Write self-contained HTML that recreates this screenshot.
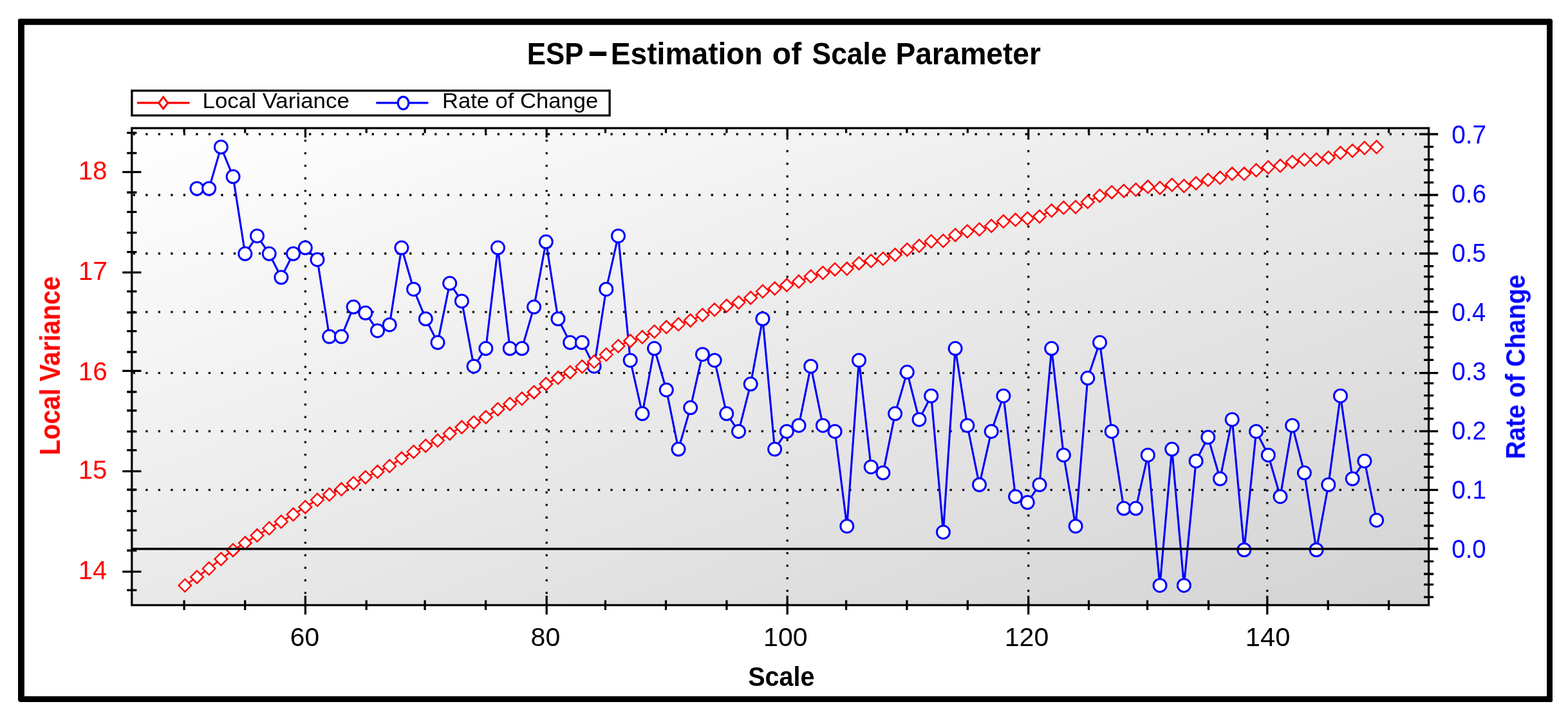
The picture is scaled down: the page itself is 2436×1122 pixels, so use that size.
<!DOCTYPE html>
<html lang="en"><head><meta charset="utf-8"><title>ESP - Estimation of Scale Parameter</title>
<style>html,body{margin:0;padding:0;background:#fff;}body{width:2436px;height:1122px;}svg{display:block;}text{font-family:"Liberation Sans",sans-serif;}</style>
</head><body>
<svg width="2436" height="1122" viewBox="0 0 2436 1122">
<defs><linearGradient id="bg" x1="0" y1="0" x2="1" y2="1"><stop offset="0" stop-color="#ffffff"/><stop offset="1" stop-color="#d3d3d3"/></linearGradient>
<filter id="soft" filterUnits="userSpaceOnUse" x="40" y="40" width="2360" height="1040"><feGaussianBlur stdDeviation="0.45"/></filter><clipPath id="cp"><rect x="204.8" y="199.1" width="2014.8" height="741.3"/></clipPath></defs>
<rect width="2436" height="1122" fill="#fff"/>
<path fill="#000" fill-rule="evenodd" d="M31 29H2409.8L2412 31.2V1089.8L2410.8 1091H30.4L28 1088.6V31.6Q28 29 31 29ZM37.9 38.8V1082.05H2403.1V38.8Z"/>
<g filter="url(#soft)">
<rect x="204.8" y="199.1" width="2014.8" height="741.3" fill="url(#bg)"/>
<g clip-path="url(#cp)" stroke="#000" stroke-width="3.27" stroke-dasharray="3.27 16.25" fill="none">
<path d="M206.7 761.3H2219.6"/>
<path d="M206.7 670.1H2219.6"/>
<path d="M206.7 579.6H2219.6"/>
<path d="M206.7 484.9H2219.6"/>
<path d="M206.7 394H2219.6"/>
<path d="M206.7 303H2219.6"/>
<path d="M206.7 208.5H2219.6"/>
<path d="M474.4 197.5V940.4"/>
<path d="M849.2 197.5V940.4"/>
<path d="M1223.2 194.3V940.4"/>
<path d="M1597.7 194.3V940.4"/>
<path d="M1968.8 194.3V940.4"/>
</g>
<path d="M474.4 925.8V955M474.4 199.1V213.7M849.2 925.8V955M849.2 199.1V213.7M1223.2 925.8V955M1223.2 199.1V213.7M1597.7 925.8V955M1597.7 199.1V213.7M1968.8 925.8V955M1968.8 199.1V213.7M286.1 932.8V948M286.1 199.1V206.7M380.7 932.8V948M380.7 199.1V206.7M569.2 932.8V948M569.2 199.1V206.7M660.1 932.8V948M660.1 199.1V206.7M754.6 932.8V948M754.6 199.1V206.7M940.5 932.8V948M940.5 199.1V206.7M1034.5 932.8V948M1034.5 199.1V206.7M1128.9 932.8V948M1128.9 199.1V206.7M1314.6 932.8V948M1314.6 199.1V206.7M1408.9 932.8V948M1408.9 199.1V206.7M1503.3 932.8V948M1503.3 199.1V206.7M1691.5 932.8V948M1691.5 199.1V206.7M1782.5 932.8V948M1782.5 199.1V206.7M1877.5 932.8V948M1877.5 199.1V206.7M2063.2 932.8V948M2063.2 199.1V206.7M2157.6 932.8V948M2157.6 199.1V206.7M197.2 206.3H212.4M197.2 237.9H212.4M190.2 267.4H219.4M197.2 299H212.4M197.2 329.3H212.4M197.2 361.7H212.4M197.2 391.7H212.4M190.2 423.4H219.4M197.2 452.9H212.4M197.2 485.5H212.4M197.2 514.7H212.4M197.2 547H212.4M190.2 576.4H219.4M197.2 609H212.4M197.2 638H212.4M197.2 670.6H212.4M197.2 699.7H212.4M190.2 732.4H219.4M197.2 761H212.4M197.2 794.2H212.4M197.2 824.1H212.4M197.2 855.5H212.4M190.2 888.4H219.4M197.2 917.2H212.4M2205 208.5H2234.2M2212 228.1H2227.2M2212 247.9H2227.2M2212 264.3H2227.2M2212 283.7H2227.2M2205 303H2234.2M2212 319.5H2227.2M2212 338.5H2227.2M2212 357.2H2227.2M2212 375.4H2227.2M2205 394H2234.2M2212 413.7H2227.2M2212 429.9H2227.2M2212 449.3H2227.2M2212 468.5H2227.2M2205 484.9H2234.2M2212 504.6H2227.2M2212 523.9H2227.2M2212 539.8H2227.2M2212 559.4H2227.2M2205 579.6H2234.2M2212 595.6H2227.2M2212 614.6H2227.2M2212 634.6H2227.2M2212 650.8H2227.2M2205 670.1H2234.2M2212 689.7H2227.2M2212 706H2227.2M2212 725.3H2227.2M2212 742.2H2227.2M2205 761.3H2234.2M2212 781.3H2227.2M2212 797.3H2227.2M2212 817H2227.2M2212 836.3H2227.2M2205 853H2234.2M2212 872.4H2227.2M2212 892H2227.2M2212 908.3H2227.2M2212 927.8H2227.2" stroke="#000" stroke-width="3.27" fill="none"/>
<rect x="204.8" y="199.1" width="2014.8" height="741.3" fill="none" stroke="#000" stroke-width="3.27"/>
<g clip-path="url(#cp)">
<polyline points="306,293 324.7,293 343.4,228.56 362.1,274.59 380.8,394.25 399.5,366.63 418.2,394.25 436.9,431.07 455.6,394.25 474.3,385.05 493,403.45 511.7,523.12 530.4,523.12 549.1,477.1 567.8,486.3 586.5,513.91 605.2,504.71 623.9,385.05 642.6,449.48 661.3,495.5 680,532.33 698.7,440.27 717.4,467.89 736.1,569.14 754.8,541.53 773.5,385.05 792.2,541.53 810.9,541.53 829.6,477.1 848.3,375.84 867,495.5 885.7,532.33 904.4,532.33 923.1,569.14 941.8,449.48 960.5,366.63 979.2,559.94 997.9,642.78 1016.6,541.53 1035.3,605.96 1054,698.01 1072.7,633.58 1091.4,550.74 1110.1,559.94 1128.8,642.78 1147.5,670.4 1166.2,596.76 1184.9,495.5 1203.6,698.01 1222.3,670.4 1241,661.19 1259.7,569.14 1278.4,661.19 1297.1,670.4 1315.8,817.68 1334.5,559.94 1353.2,725.63 1371.9,734.84 1390.6,642.78 1409.3,578.35 1428,651.99 1446.7,615.17 1465.4,826.88 1484.1,541.53 1502.8,661.19 1521.5,753.25 1540.2,670.4 1558.9,615.17 1577.6,771.65 1596.3,780.86 1615,753.25 1633.7,541.53 1652.4,707.22 1671.1,817.68 1689.8,587.56 1708.5,532.33 1727.2,670.4 1745.9,790.07 1764.6,790.07 1783.3,707.22 1802,909.73 1820.7,698.01 1839.4,909.73 1858.1,716.42 1876.8,679.61 1895.5,744.04 1914.2,651.99 1932.9,854.5 1951.6,670.4 1970.3,707.22 1989,771.65 2007.7,661.19 2026.4,734.84 2045.1,854.5 2063.8,753.25 2082.5,615.17 2101.2,744.04 2119.9,716.42 2138.6,808.48" fill="none" stroke="#00f" stroke-width="3.1" stroke-linejoin="round"/>
<g fill="#fff" stroke="#00f" stroke-width="3">
<circle cx="306" cy="293" r="10"/>
<circle cx="324.7" cy="293" r="10"/>
<circle cx="343.4" cy="228.56" r="10"/>
<circle cx="362.1" cy="274.59" r="10"/>
<circle cx="380.8" cy="394.25" r="10"/>
<circle cx="399.5" cy="366.63" r="10"/>
<circle cx="418.2" cy="394.25" r="10"/>
<circle cx="436.9" cy="431.07" r="10"/>
<circle cx="455.6" cy="394.25" r="10"/>
<circle cx="474.3" cy="385.05" r="10"/>
<circle cx="493" cy="403.45" r="10"/>
<circle cx="511.7" cy="523.12" r="10"/>
<circle cx="530.4" cy="523.12" r="10"/>
<circle cx="549.1" cy="477.1" r="10"/>
<circle cx="567.8" cy="486.3" r="10"/>
<circle cx="586.5" cy="513.91" r="10"/>
<circle cx="605.2" cy="504.71" r="10"/>
<circle cx="623.9" cy="385.05" r="10"/>
<circle cx="642.6" cy="449.48" r="10"/>
<circle cx="661.3" cy="495.5" r="10"/>
<circle cx="680" cy="532.33" r="10"/>
<circle cx="698.7" cy="440.27" r="10"/>
<circle cx="717.4" cy="467.89" r="10"/>
<circle cx="736.1" cy="569.14" r="10"/>
<circle cx="754.8" cy="541.53" r="10"/>
<circle cx="773.5" cy="385.05" r="10"/>
<circle cx="792.2" cy="541.53" r="10"/>
<circle cx="810.9" cy="541.53" r="10"/>
<circle cx="829.6" cy="477.1" r="10"/>
<circle cx="848.3" cy="375.84" r="10"/>
<circle cx="867" cy="495.5" r="10"/>
<circle cx="885.7" cy="532.33" r="10"/>
<circle cx="904.4" cy="532.33" r="10"/>
<circle cx="923.1" cy="569.14" r="10"/>
<circle cx="941.8" cy="449.48" r="10"/>
<circle cx="960.5" cy="366.63" r="10"/>
<circle cx="979.2" cy="559.94" r="10"/>
<circle cx="997.9" cy="642.78" r="10"/>
<circle cx="1016.6" cy="541.53" r="10"/>
<circle cx="1035.3" cy="605.96" r="10"/>
<circle cx="1054" cy="698.01" r="10"/>
<circle cx="1072.7" cy="633.58" r="10"/>
<circle cx="1091.4" cy="550.74" r="10"/>
<circle cx="1110.1" cy="559.94" r="10"/>
<circle cx="1128.8" cy="642.78" r="10"/>
<circle cx="1147.5" cy="670.4" r="10"/>
<circle cx="1166.2" cy="596.76" r="10"/>
<circle cx="1184.9" cy="495.5" r="10"/>
<circle cx="1203.6" cy="698.01" r="10"/>
<circle cx="1222.3" cy="670.4" r="10"/>
<circle cx="1241" cy="661.19" r="10"/>
<circle cx="1259.7" cy="569.14" r="10"/>
<circle cx="1278.4" cy="661.19" r="10"/>
<circle cx="1297.1" cy="670.4" r="10"/>
<circle cx="1315.8" cy="817.68" r="10"/>
<circle cx="1334.5" cy="559.94" r="10"/>
<circle cx="1353.2" cy="725.63" r="10"/>
<circle cx="1371.9" cy="734.84" r="10"/>
<circle cx="1390.6" cy="642.78" r="10"/>
<circle cx="1409.3" cy="578.35" r="10"/>
<circle cx="1428" cy="651.99" r="10"/>
<circle cx="1446.7" cy="615.17" r="10"/>
<circle cx="1465.4" cy="826.88" r="10"/>
<circle cx="1484.1" cy="541.53" r="10"/>
<circle cx="1502.8" cy="661.19" r="10"/>
<circle cx="1521.5" cy="753.25" r="10"/>
<circle cx="1540.2" cy="670.4" r="10"/>
<circle cx="1558.9" cy="615.17" r="10"/>
<circle cx="1577.6" cy="771.65" r="10"/>
<circle cx="1596.3" cy="780.86" r="10"/>
<circle cx="1615" cy="753.25" r="10"/>
<circle cx="1633.7" cy="541.53" r="10"/>
<circle cx="1652.4" cy="707.22" r="10"/>
<circle cx="1671.1" cy="817.68" r="10"/>
<circle cx="1689.8" cy="587.56" r="10"/>
<circle cx="1708.5" cy="532.33" r="10"/>
<circle cx="1727.2" cy="670.4" r="10"/>
<circle cx="1745.9" cy="790.07" r="10"/>
<circle cx="1764.6" cy="790.07" r="10"/>
<circle cx="1783.3" cy="707.22" r="10"/>
<circle cx="1802" cy="909.73" r="10"/>
<circle cx="1820.7" cy="698.01" r="10"/>
<circle cx="1839.4" cy="909.73" r="10"/>
<circle cx="1858.1" cy="716.42" r="10"/>
<circle cx="1876.8" cy="679.61" r="10"/>
<circle cx="1895.5" cy="744.04" r="10"/>
<circle cx="1914.2" cy="651.99" r="10"/>
<circle cx="1932.9" cy="854.5" r="10"/>
<circle cx="1951.6" cy="670.4" r="10"/>
<circle cx="1970.3" cy="707.22" r="10"/>
<circle cx="1989" cy="771.65" r="10"/>
<circle cx="2007.7" cy="661.19" r="10"/>
<circle cx="2026.4" cy="734.84" r="10"/>
<circle cx="2045.1" cy="854.5" r="10"/>
<circle cx="2063.8" cy="753.25" r="10"/>
<circle cx="2082.5" cy="615.17" r="10"/>
<circle cx="2101.2" cy="744.04" r="10"/>
<circle cx="2119.9" cy="716.42" r="10"/>
<circle cx="2138.6" cy="808.48" r="10"/>
</g>
<polyline points="287.3,909.79 306,896.67 324.7,883.48 343.4,868.69 362.1,854.88 380.8,843.86 399.5,832.12 418.2,820.98 436.9,810.69 455.6,799.44 474.3,787.92 493,776.79 511.7,768.57 530.4,760.32 549.1,750.9 567.8,741.66 586.5,733.09 605.2,724.25 623.9,712.34 642.6,702.01 661.3,692.82 680,684.53 698.7,673.85 717.4,663.83 736.1,656.4 754.8,648.23 773.5,635.93 792.2,627.69 810.9,619.43 829.6,609.42 848.3,596.68 867,587.08 885.7,578.42 904.4,569.74 923.1,562.02 941.8,551.03 960.5,537.74 979.2,529.67 997.9,523.85 1016.6,515.23 1035.3,508.36 1054,504.03 1072.7,497.89 1091.4,489.44 1110.1,481.22 1128.8,475.29 1147.5,470.12 1166.2,462.87 1184.9,452.74 1203.6,448.31 1222.3,443.09 1241,437.59 1259.7,429.47 1278.4,423.94 1297.1,418.67 1315.8,417.62 1334.5,409.16 1353.2,405.45 1371.9,402 1390.6,395.89 1409.3,387.9 1428,382.02 1446.7,375.06 1465.4,374.25 1484.1,365.13 1502.8,359.47 1521.5,356.5 1540.2,351.09 1558.9,344.05 1577.6,341.61 1596.3,339.43 1615,336.44 1633.7,327.18 1652.4,322.81 1671.1,321.72 1689.8,313.78 1708.5,304.17 1727.2,298.66 1745.9,296.72 1764.6,294.79 1783.3,290.37 1802,292.03 1820.7,287.32 1839.4,288.99 1858.1,284.83 1876.8,279.56 1895.5,276.22 1914.2,270.1 1932.9,270.1 1951.6,264.52 1970.3,260.05 1989,257.53 2007.7,251.65 2026.4,248 2045.1,248 2063.8,244.9 2082.5,237.59 2101.2,234.2 2119.9,229.96 2138.6,228.55" fill="none" stroke="#f00" stroke-width="2.6"/>
<path d="M277.5 909.79l9.8 -9.8l9.8 9.8l-9.8 9.8zM296.2 896.67l9.8 -9.8l9.8 9.8l-9.8 9.8zM314.9 883.48l9.8 -9.8l9.8 9.8l-9.8 9.8zM333.6 868.69l9.8 -9.8l9.8 9.8l-9.8 9.8zM352.3 854.88l9.8 -9.8l9.8 9.8l-9.8 9.8zM371 843.86l9.8 -9.8l9.8 9.8l-9.8 9.8zM389.7 832.12l9.8 -9.8l9.8 9.8l-9.8 9.8zM408.4 820.98l9.8 -9.8l9.8 9.8l-9.8 9.8zM427.1 810.69l9.8 -9.8l9.8 9.8l-9.8 9.8zM445.8 799.44l9.8 -9.8l9.8 9.8l-9.8 9.8zM464.5 787.92l9.8 -9.8l9.8 9.8l-9.8 9.8zM483.2 776.79l9.8 -9.8l9.8 9.8l-9.8 9.8zM501.9 768.57l9.8 -9.8l9.8 9.8l-9.8 9.8zM520.6 760.32l9.8 -9.8l9.8 9.8l-9.8 9.8zM539.3 750.9l9.8 -9.8l9.8 9.8l-9.8 9.8zM558 741.66l9.8 -9.8l9.8 9.8l-9.8 9.8zM576.7 733.09l9.8 -9.8l9.8 9.8l-9.8 9.8zM595.4 724.25l9.8 -9.8l9.8 9.8l-9.8 9.8zM614.1 712.34l9.8 -9.8l9.8 9.8l-9.8 9.8zM632.8 702.01l9.8 -9.8l9.8 9.8l-9.8 9.8zM651.5 692.82l9.8 -9.8l9.8 9.8l-9.8 9.8zM670.2 684.53l9.8 -9.8l9.8 9.8l-9.8 9.8zM688.9 673.85l9.8 -9.8l9.8 9.8l-9.8 9.8zM707.6 663.83l9.8 -9.8l9.8 9.8l-9.8 9.8zM726.3 656.4l9.8 -9.8l9.8 9.8l-9.8 9.8zM745 648.23l9.8 -9.8l9.8 9.8l-9.8 9.8zM763.7 635.93l9.8 -9.8l9.8 9.8l-9.8 9.8zM782.4 627.69l9.8 -9.8l9.8 9.8l-9.8 9.8zM801.1 619.43l9.8 -9.8l9.8 9.8l-9.8 9.8zM819.8 609.42l9.8 -9.8l9.8 9.8l-9.8 9.8zM838.5 596.68l9.8 -9.8l9.8 9.8l-9.8 9.8zM857.2 587.08l9.8 -9.8l9.8 9.8l-9.8 9.8zM875.9 578.42l9.8 -9.8l9.8 9.8l-9.8 9.8zM894.6 569.74l9.8 -9.8l9.8 9.8l-9.8 9.8zM913.3 562.02l9.8 -9.8l9.8 9.8l-9.8 9.8zM932 551.03l9.8 -9.8l9.8 9.8l-9.8 9.8zM950.7 537.74l9.8 -9.8l9.8 9.8l-9.8 9.8zM969.4 529.67l9.8 -9.8l9.8 9.8l-9.8 9.8zM988.1 523.85l9.8 -9.8l9.8 9.8l-9.8 9.8zM1006.8 515.23l9.8 -9.8l9.8 9.8l-9.8 9.8zM1025.5 508.36l9.8 -9.8l9.8 9.8l-9.8 9.8zM1044.2 504.03l9.8 -9.8l9.8 9.8l-9.8 9.8zM1062.9 497.89l9.8 -9.8l9.8 9.8l-9.8 9.8zM1081.6 489.44l9.8 -9.8l9.8 9.8l-9.8 9.8zM1100.3 481.22l9.8 -9.8l9.8 9.8l-9.8 9.8zM1119 475.29l9.8 -9.8l9.8 9.8l-9.8 9.8zM1137.7 470.12l9.8 -9.8l9.8 9.8l-9.8 9.8zM1156.4 462.87l9.8 -9.8l9.8 9.8l-9.8 9.8zM1175.1 452.74l9.8 -9.8l9.8 9.8l-9.8 9.8zM1193.8 448.31l9.8 -9.8l9.8 9.8l-9.8 9.8zM1212.5 443.09l9.8 -9.8l9.8 9.8l-9.8 9.8zM1231.2 437.59l9.8 -9.8l9.8 9.8l-9.8 9.8zM1249.9 429.47l9.8 -9.8l9.8 9.8l-9.8 9.8zM1268.6 423.94l9.8 -9.8l9.8 9.8l-9.8 9.8zM1287.3 418.67l9.8 -9.8l9.8 9.8l-9.8 9.8zM1306 417.62l9.8 -9.8l9.8 9.8l-9.8 9.8zM1324.7 409.16l9.8 -9.8l9.8 9.8l-9.8 9.8zM1343.4 405.45l9.8 -9.8l9.8 9.8l-9.8 9.8zM1362.1 402l9.8 -9.8l9.8 9.8l-9.8 9.8zM1380.8 395.89l9.8 -9.8l9.8 9.8l-9.8 9.8zM1399.5 387.9l9.8 -9.8l9.8 9.8l-9.8 9.8zM1418.2 382.02l9.8 -9.8l9.8 9.8l-9.8 9.8zM1436.9 375.06l9.8 -9.8l9.8 9.8l-9.8 9.8zM1455.6 374.25l9.8 -9.8l9.8 9.8l-9.8 9.8zM1474.3 365.13l9.8 -9.8l9.8 9.8l-9.8 9.8zM1493 359.47l9.8 -9.8l9.8 9.8l-9.8 9.8zM1511.7 356.5l9.8 -9.8l9.8 9.8l-9.8 9.8zM1530.4 351.09l9.8 -9.8l9.8 9.8l-9.8 9.8zM1549.1 344.05l9.8 -9.8l9.8 9.8l-9.8 9.8zM1567.8 341.61l9.8 -9.8l9.8 9.8l-9.8 9.8zM1586.5 339.43l9.8 -9.8l9.8 9.8l-9.8 9.8zM1605.2 336.44l9.8 -9.8l9.8 9.8l-9.8 9.8zM1623.9 327.18l9.8 -9.8l9.8 9.8l-9.8 9.8zM1642.6 322.81l9.8 -9.8l9.8 9.8l-9.8 9.8zM1661.3 321.72l9.8 -9.8l9.8 9.8l-9.8 9.8zM1680 313.78l9.8 -9.8l9.8 9.8l-9.8 9.8zM1698.7 304.17l9.8 -9.8l9.8 9.8l-9.8 9.8zM1717.4 298.66l9.8 -9.8l9.8 9.8l-9.8 9.8zM1736.1 296.72l9.8 -9.8l9.8 9.8l-9.8 9.8zM1754.8 294.79l9.8 -9.8l9.8 9.8l-9.8 9.8zM1773.5 290.37l9.8 -9.8l9.8 9.8l-9.8 9.8zM1792.2 292.03l9.8 -9.8l9.8 9.8l-9.8 9.8zM1810.9 287.32l9.8 -9.8l9.8 9.8l-9.8 9.8zM1829.6 288.99l9.8 -9.8l9.8 9.8l-9.8 9.8zM1848.3 284.83l9.8 -9.8l9.8 9.8l-9.8 9.8zM1867 279.56l9.8 -9.8l9.8 9.8l-9.8 9.8zM1885.7 276.22l9.8 -9.8l9.8 9.8l-9.8 9.8zM1904.4 270.1l9.8 -9.8l9.8 9.8l-9.8 9.8zM1923.1 270.1l9.8 -9.8l9.8 9.8l-9.8 9.8zM1941.8 264.52l9.8 -9.8l9.8 9.8l-9.8 9.8zM1960.5 260.05l9.8 -9.8l9.8 9.8l-9.8 9.8zM1979.2 257.53l9.8 -9.8l9.8 9.8l-9.8 9.8zM1997.9 251.65l9.8 -9.8l9.8 9.8l-9.8 9.8zM2016.6 248l9.8 -9.8l9.8 9.8l-9.8 9.8zM2035.3 248l9.8 -9.8l9.8 9.8l-9.8 9.8zM2054 244.9l9.8 -9.8l9.8 9.8l-9.8 9.8zM2072.7 237.59l9.8 -9.8l9.8 9.8l-9.8 9.8zM2091.4 234.2l9.8 -9.8l9.8 9.8l-9.8 9.8zM2110.1 229.96l9.8 -9.8l9.8 9.8l-9.8 9.8zM2128.8 228.55l9.8 -9.8l9.8 9.8l-9.8 9.8z" fill="#fff" stroke="#f00" stroke-width="2.4"/>
</g>
<path d="M204.8 853H2219.6" stroke="#000" stroke-width="3.27"/>
<rect x="204.9" y="140.9" width="742.2" height="38.5" fill="#fff" stroke="#000" stroke-width="3.27"/>
<path d="M213 159.9H294.6" stroke="#f00" stroke-width="3.27"/>
<path d="M246.8 159.9L253.7 150.7L260.6 159.9L253.7 169.1Z" fill="#fff" stroke="#f00" stroke-width="3"/>
<path d="M584.3 159.9H665.4" stroke="#00f" stroke-width="3.27"/>
<ellipse cx="626.5" cy="160.1" rx="8.3" ry="9.8" fill="#fff" stroke="#00f" stroke-width="3.27"/>
<text transform="translate(314.51 168) scale(0.8733 0.8152)" font-size="40" fill="#000">Local Variance</text>
<text transform="translate(686.93 168) scale(0.8652 0.8152)" font-size="40" fill="#000">Rate of Change</text>
<g>
<text transform="translate(818.75 100) scale(1.0971 1.1884)" font-size="40" font-weight="bold" fill="#000">ESP</text>
<text transform="translate(914.31 101.96) scale(1.3283 1.7000)" font-size="40" font-weight="bold" fill="#000">–</text>
<text transform="translate(948.7 100) scale(1.1545 1.1884)" font-size="40" font-weight="bold" fill="#000">Estimation</text>
<text transform="translate(1199.78 100) scale(1.2017 1.1884)" font-size="40" font-weight="bold" fill="#000">of</text>
<text transform="translate(1261.57 100) scale(1.1100 1.1884)" font-size="40" font-weight="bold" fill="#000">Scale</text>
<text transform="translate(1391.5 100) scale(1.1521 1.1884)" font-size="40" font-weight="bold" fill="#000">Parameter</text>
</g>
<text transform="translate(121.68 278.58) scale(1.0075 1.0387)" font-size="40" fill="#f00">18</text>
<text transform="translate(121.65 434.83) scale(1.0178 1.0387)" font-size="40" fill="#f00">17</text>
<text transform="translate(121.66 590.83) scale(1.0126 1.0387)" font-size="40" fill="#f00">16</text>
<text transform="translate(121.68 744.23) scale(1.0075 1.0387)" font-size="40" fill="#f00">15</text>
<text transform="translate(121.71 900.13) scale(0.9975 1.0387)" font-size="40" fill="#f00">14</text>
<text transform="translate(2255.26 866.83) scale(0.9618 1.0387)" font-size="40" fill="#00f">0.0</text>
<text transform="translate(2255.25 774.83) scale(0.9692 1.0387)" font-size="40" fill="#00f">0.1</text>
<text transform="translate(2255.25 682.83) scale(0.9692 1.0387)" font-size="40" fill="#00f">0.2</text>
<text transform="translate(2255.26 590.83) scale(0.9655 1.0387)" font-size="40" fill="#00f">0.3</text>
<text transform="translate(2255.27 498.83) scale(0.9545 1.0387)" font-size="40" fill="#00f">0.4</text>
<text transform="translate(2255.26 406.83) scale(0.9618 1.0387)" font-size="40" fill="#00f">0.5</text>
<text transform="translate(2255.26 314.83) scale(0.9655 1.0387)" font-size="40" fill="#00f">0.6</text>
<text transform="translate(2255.25 222.83) scale(0.9692 1.0387)" font-size="40" fill="#00f">0.7</text>
<text transform="translate(450.77 1004.13) scale(1.0172 1.0387)" font-size="40" fill="#000">60</text>
<text transform="translate(824.55 1004.13) scale(1.0268 1.0387)" font-size="40" fill="#000">80</text>
<text transform="translate(1186.12 1004.13) scale(1.0274 1.0387)" font-size="40" fill="#000">100</text>
<text transform="translate(1560.72 1004.13) scale(1.0274 1.0387)" font-size="40" fill="#000">120</text>
<text transform="translate(1934.87 1004.13) scale(1.0435 1.0387)" font-size="40" fill="#000">140</text>
<text transform="translate(1162.22 1066.2) scale(0.9872 1.0429)" font-size="40" font-weight="bold" fill="#000">Scale</text>
<text transform="translate(92.7 707.48) rotate(-90) scale(0.9935 1.0978)" font-size="40" font-weight="bold" fill="#f00">Local Variance</text>
<text transform="translate(2368.6 713.54) rotate(-90) scale(0.9779 1.0725)" font-size="40" font-weight="bold" fill="#00f">Rate of Change</text>
</g>
</svg>
</body></html>
